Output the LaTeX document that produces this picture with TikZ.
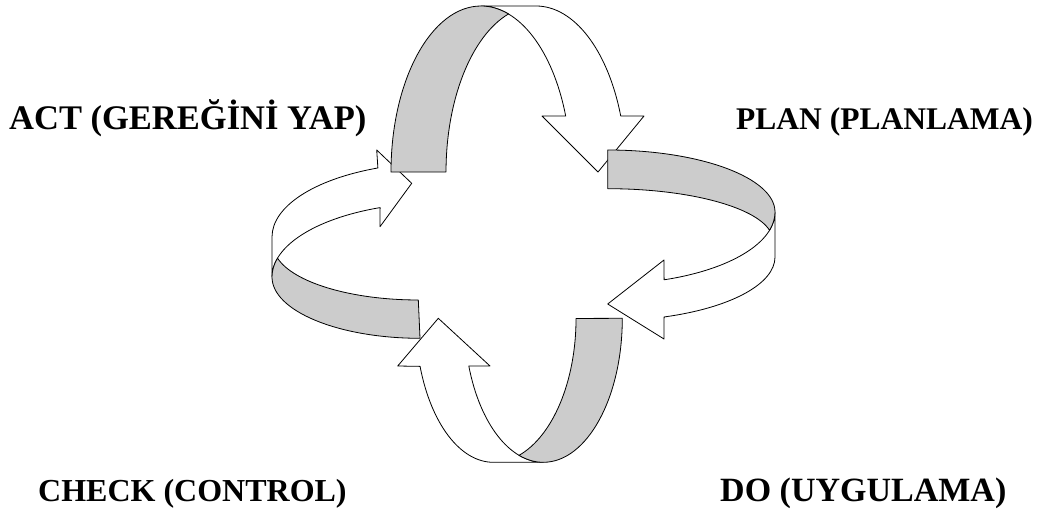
\documentclass[tikz,border=0pt]{standalone}
\usepackage{fontspec}
\setmainfont{Liberation Serif}
\definecolor{bandgray}{RGB}{204,204,204}
\tikzset{
  band/.style={draw=black, line width=0.8pt, line join=round},
  front/.style={band, fill=white},
  back/.style={band, fill=bandgray},
  lbl/.style={font=\bfseries, inner sep=0pt}
}
\begin{document}
\begin{tikzpicture}[x=1pt, y=-1pt]
\useasboundingbox (0,0) rectangle (1040,508);

% ---- front (white) halves of the four curved arrows ----
% left arrow, pointing right into the top arrow
\draw[front] (272,237) arc[start angle=180, end angle=248.3, x radius=168, y radius=74.3]
  -- (376.7,150) -- (411.7,183.3) -- (380,226.7) -- (380.1,207.6)
  arc[start angle=249.1, end angle=180, x radius=168, y radius=74.3] -- cycle;
% top arrow, pointing down into the right arrow
\draw[front] (481,6) -- (536,6)
  arc[start angle=270, end angle=340.3, x radius=90, y radius=166]
  -- (644,116) -- (598,172) -- (542,116) -- (565.7,116.1)
  arc[start angle=340.3, end angle=270, x radius=90, y radius=166] -- cycle;
% right arrow, pointing left into the bottom arrow
\draw[front] (775,212) -- (775,257)
  arc[start angle=0, end angle=70.3, x radius=167.3, y radius=63.7]
  -- (664,339) -- (607.7,304) -- (664,260) -- (664.1,279.8)
  arc[start angle=70.3, end angle=0, x radius=167.3, y radius=72] -- cycle;
% bottom arrow, pointing up into the left arrow
\draw[front] (543.3,462.3) -- (493.3,462.3)
  arc[start angle=90, end angle=160.5, x radius=77.7, y radius=144]
  -- (397.7,366) -- (438.3,318.3) -- (490,366) -- (468.8,366)
  arc[start angle=160.65, end angle=90, x radius=79, y radius=144] -- cycle;

% ---- back (shaded) halves ----
\draw[back] (277.5,258.1) arc[start angle=166.2, end angle=90, x radius=145, y radius=55]
  -- (420,338.3) arc[start angle=90, end angle=180, x radius=148, y radius=61.3]
  arc[start angle=180, end angle=194.7, x radius=168, y radius=74.3] -- cycle;
\draw[back] (391,172) arc[start angle=180, end angle=270, x radius=90, y radius=166]
  arc[start angle=270, end angle=287.8, x radius=90, y radius=166]
  arc[start angle=252.2, end angle=180, x radius=90, y radius=166] -- cycle;
\draw[back] (607.7,150) arc[start angle=270, end angle=360, x radius=167.3, y radius=62]
  arc[start angle=0, end angle=14.7, x radius=167.3, y radius=72]
  arc[start angle=348.7, end angle=270, x radius=165, y radius=51.7] -- cycle;
\draw[back] (622.3,318.3) arc[start angle=0, end angle=90, x radius=79, y radius=144]
  arc[start angle=90, end angle=107.9, x radius=79, y radius=144]
  arc[start angle=71.9, end angle=0, x radius=82.7, y radius=144] -- cycle;

% ---- labels ----
\node[lbl, font=\fontsize{34.5}{40}\selectfont\bfseries, anchor=base west] (act) at (9,129) {ACT (GEREĞİNİ YAP)};
\node[lbl, font=\fontsize{31.5}{38}\selectfont\bfseries, anchor=base east] (plan) at (1033,129) {PLAN (PLANLAMA)};
\node[lbl, font=\fontsize{32}{38}\selectfont\bfseries, anchor=base west] (check) at (38,501) {CHECK (CONTROL)};
\node[lbl, font=\fontsize{34}{40}\selectfont\bfseries, anchor=base west] (do) at (720,501) {DO (UYGULAMA)};
\end{tikzpicture}
\end{document}
